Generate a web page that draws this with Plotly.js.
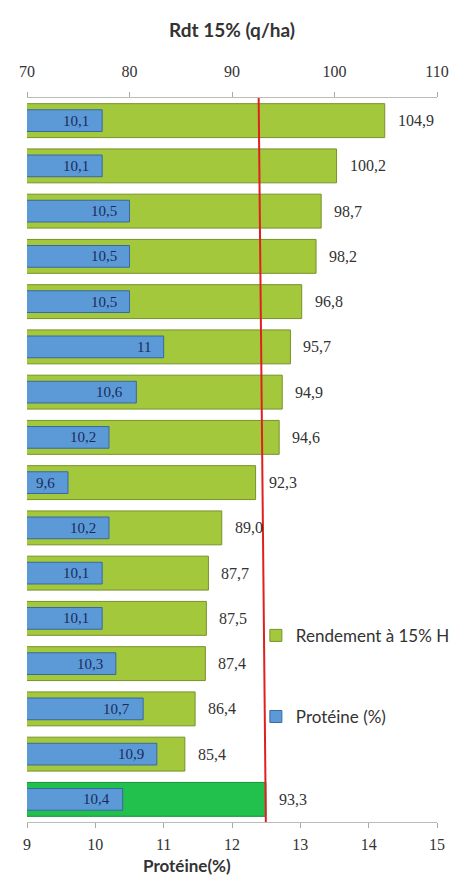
<!DOCTYPE html>
<html>
<head>
<meta charset="utf-8">
<script src="https://cdn.plot.ly/plotly-3.0.1.min.js"></script>
<style>html,body{margin:0;padding:0;background:#fff;overflow:hidden;}#chart{width:458px;height:875px;}</style>
</head>
<body>
<div id="chart"></div>
<script>
// Data
const rows = [1,2,3,4,5,6,7,8,9,10,11,12,13,14,15,16];
const rendement = [104.9, 100.2, 98.7, 98.2, 96.8, 95.7, 94.9, 94.6, 92.3, 89.0, 87.7, 87.5, 87.4, 86.4, 85.4, 93.3];
const proteine = [10.1, 10.1, 10.5, 10.5, 10.5, 11, 10.6, 10.2, 9.6, 10.2, 10.1, 10.1, 10.3, 10.7, 10.9, 10.4];
const meanLineX = [92.6, 93.3];
const meanLineY = [0.5, 16.5];
const topTicks = [70, 80, 90, 100, 110];
const bottomTicks = [9, 10, 11, 12, 13, 14, 15];

const serif = 'Liberation Serif, DejaVu Serif, serif';
const sans = 'Lato, Liberation Sans, sans-serif';

const greenColors = rendement.map((v, i) => i === rendement.length - 1 ? '#22c04c' : '#a3c83c');
const greenLines = rendement.map((v, i) => i === rendement.length - 1 ? '#15903a' : '#76922a');

const traces = [
  {
    type: 'bar', orientation: 'h', name: 'Rendement à 15% H',
    x: rendement, y: rows, xaxis: 'x', yaxis: 'y', width: 0.75,
    marker: {color: greenColors, line: {color: greenLines, width: 1}},
    legendgroup: 'a', hoverinfo: 'x'
  },
  {
    type: 'bar', orientation: 'h', name: 'Protéine (%)',
    x: proteine, y: rows, xaxis: 'x2', yaxis: 'y', width: 0.48,
    marker: {color: '#5b9ad6', line: {color: '#3a68a0', width: 1}},
    legendgroup: 'b', hoverinfo: 'x'
  },
  {
    type: 'scatter', mode: 'lines', x: meanLineX, y: meanLineY,
    xaxis: 'x', yaxis: 'y', showlegend: false, hoverinfo: 'skip',
    line: {color: '#e02020', width: 2}
  }
];

const valueLabels = rendement.map((v, i) => ({
  x: v, y: rows[i], xref: 'x', yref: 'y', xanchor: 'left', yanchor: 'middle',
  xshift: 11, showarrow: false,
  text: v.toFixed(1).replace('.', ','),
  font: {family: serif, size: 16, color: '#333'}
}));
const protLabels = proteine.map((v, i) => ({
  x: v, y: rows[i], xref: 'x2', yref: 'y', xanchor: 'right', yanchor: 'middle',
  xshift: -11, yshift: 0, showarrow: false,
  text: String(v).replace('.', ','),
  font: {family: serif, size: 15, color: '#1b2a5c'}
}));

const layout = {
  width: 458, height: 875,
  margin: {l: 27, r: 0, t: 98, b: 53},
  paper_bgcolor: '#fff', plot_bgcolor: '#fff',
  barmode: 'overlay', bargap: 0,
  showlegend: true,
  legend: {
    x: 0.531, y: 0.282, xanchor: 'left', yanchor: 'top',
    traceorder: 'grouped', tracegroupgap: 56,
    font: {family: sans, size: 17, color: '#333'},
    bgcolor: 'rgba(0,0,0,0)', itemwidth: 30
  },
  xaxis: {
    domain: [0, 0.9513],
    side: 'top', range: [70, 110], tickvals: topTicks,
    ticks: 'outside', ticklen: 5, tickcolor: '#aaa',
    showline: true, linecolor: '#bbb', showgrid: false, zeroline: false,
    ticklabelstandoff: 9,
    tickfont: {family: serif, size: 16, color: '#333'},
    title: {text: 'Rdt 15% (q/ha)', standoff: 19,
      font: {family: sans, size: 19, color: '#333', weight: 'bold'}}
  },
  xaxis2: {
    domain: [0, 0.9513],
    side: 'bottom', overlaying: 'x', range: [9, 15], tickvals: bottomTicks,
    ticks: 'outside', ticklen: 5, tickcolor: '#aaa',
    showline: true, linecolor: '#bbb', showgrid: false, zeroline: false,
    ticklabelstandoff: 3,
    tickfont: {family: serif, size: 16, color: '#333'}
  },
  yaxis: {
    range: [16.5, 0.5], showticklabels: false, ticks: '', showgrid: false,
    zeroline: false, showline: false
  },
  annotations: valueLabels.concat(protLabels, [{
    text: 'Protéine(%)', xref: 'paper', yref: 'paper', x: 0.371, y: -0.0605,
    xanchor: 'center', yanchor: 'middle', showarrow: false,
    font: {family: sans, size: 17, color: '#333', weight: 'bold'}
  }])
};

Plotly.newPlot('chart', traces, layout, {displayModeBar: false, staticPlot: true});
</script>
</body>
</html>
